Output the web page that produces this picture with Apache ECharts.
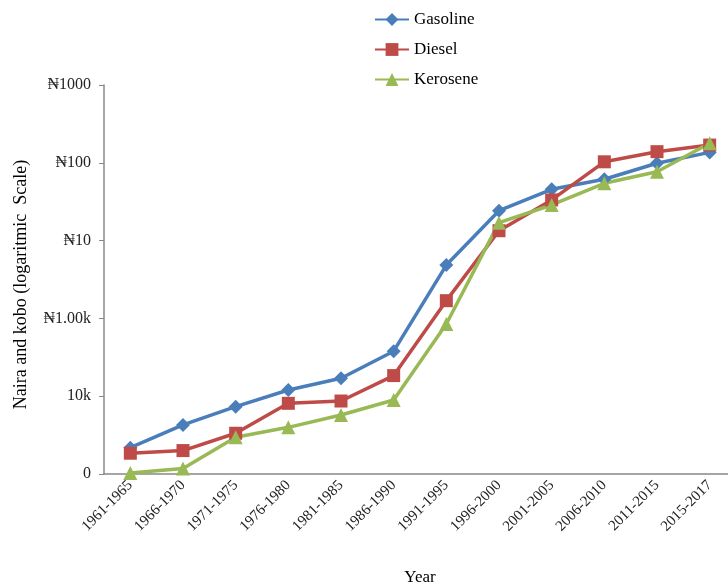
<!DOCTYPE html>
<html>
<head>
<meta charset="utf-8">
<script src="https://cdn.jsdelivr.net/npm/echarts@6/dist/echarts.min.js"></script>
<style>html,body{margin:0;padding:0;background:#fff;}#c{width:728px;height:586px;}</style>
</head>
<body>
<div id="c"></div>
<script>
const categories = ['1961-1965','1966-1970','1971-1975','1976-1980','1981-1985','1986-1990','1991-1995','1996-2000','2001-2005','2006-2010','2011-2015','2015-2017'];
const gasoline = [0.0218,0.0427,0.0733,0.120,0.170,0.379,4.85,24.2,45.6,61.4,98.7,136];
const diesel = [0.0185,0.0200,0.0334,0.081,0.0867,0.184,1.69,13.4,33.3,103,139,169];
const kerosene = [0.0103,0.0118,0.0296,0.0398,0.0573,0.0894,0.848,17.0,28.7,54.5,76.9,178];
const yTickLabels = ['0','10k','\u20A61.00k','\u20A610','\u20A6100','\u20A61000'];

const font = '"Liberation Serif", "DejaVu Serif", serif';
const chart = echarts.init(document.getElementById('c'));
function mk(name, data, color, symbol, size) {
  return {
    name, type: 'line', data, symbol, symbolSize: size,
    lineStyle: { color, width: 3.5 },
    itemStyle: { color },
    emphasis: { disabled: true }
  };
}
chart.setOption({
  animation: false,
  textStyle: { fontFamily: font },
  legend: {
    orient: 'vertical', left: 369, top: 6,
    itemWidth: 34, itemHeight: 16, itemGap: 13,
    textStyle: { fontFamily: font, fontSize: 17, color: '#000' },
    data: ['Gasoline','Diesel','Kerosene']
  },
  grid: { left: 104, top: 85, bottom: 112, right: -8, outerBoundsMode: 'none', containLabel: false },
  xAxis: {
    type: 'category', data: categories, boundaryGap: true,
    axisLine: { lineStyle: { color: '#888', width: 1.5 } },
    axisTick: { alignWithLabel: true, length: 5, lineStyle: { color: '#888' } },
    axisLabel: { rotate: 45, fontSize: 15, color: '#222', fontFamily: font, margin: 9 },
    name: 'Year', nameLocation: 'middle', nameGap: 95,
    nameTextStyle: { fontSize: 17, color: '#000', fontFamily: font }
  },
  yAxis: {
    type: 'log', logBase: 10, min: 0.01, max: 1000,
    splitLine: { show: false },
    axisLine: { show: true, lineStyle: { color: '#888', width: 1.5 } },
    axisTick: { show: true, length: 5, lineStyle: { color: '#888' } },
    axisLabel: {
      fontSize: 16, color: '#222', fontFamily: font, margin: 13,
      formatter: v => yTickLabels[Math.round(Math.log10(v)) + 2]
    },
    name: 'Naira and kobo (logaritmic  Scale)', nameLocation: 'middle', nameGap: 74,
    nameTextStyle: { fontSize: 18, color: '#000', fontFamily: font, padding: [0, 10, 0, 0] }
  },
  series: [
    mk('Gasoline', gasoline, '#4A7EBB', 'diamond', 14),
    mk('Diesel', diesel, '#BE4B48', 'rect', 13),
    mk('Kerosene', kerosene, '#98B954', 'triangle', 14)
  ]
});
</script>
</body>
</html>
